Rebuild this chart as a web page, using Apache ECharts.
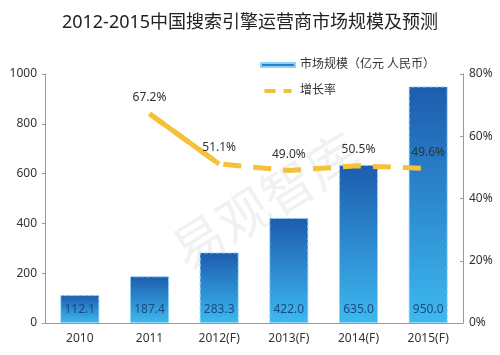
<!DOCTYPE html>
<html><head><meta charset="utf-8">
<script src="https://cdn.jsdelivr.net/npm/echarts@6/dist/echarts.min.js"></script>
<style>html,body{margin:0;padding:0;background:#fff}#c{width:500px;height:355px}</style>
</head><body><div id="c"></div>
<script>
var categories = ['2010', '2011', '2012(F)', '2013(F)', '2014(F)', '2015(F)'];
var marketSize = [112.1, 187.4, 283.3, 422.0, 635.0, 950.0];
var growthRate = [null, 67.2, 51.1, 49.0, 50.5, 49.6];
var leftTicks = [0, 1000, 200];
var rightTicks = [0, 80, 20];
var titleText = '2012-2015中国搜索引擎运营商市场规模及预测';
var sizeName = '市场规模（亿元 人民币）';
var rateName = '增长率';
var watermark = '易观智库';

var FONT = '"Noto Sans", "Noto Sans CJK SC", sans-serif';
var chart = echarts.init(document.getElementById('c'));
var solidPart = growthRate.map(function (v, i) { return i <= 2 ? v : null; });
chart.setOption({
  animation: false,
  textStyle: { fontFamily: FONT },
  title: { text: titleText, left: 'center', top: 9,
    textStyle: { fontSize: 18, fontWeight: 'normal', color: '#222', fontFamily: FONT } },
  graphic: [{ type: 'text', x: 268, y: 205, rotation: 0.55, z: 0,
    style: { text: watermark, fontSize: 52, fill: 'rgba(160,160,160,0.15)', textAlign: 'center', textVerticalAlign: 'middle', fontFamily: FONT } }],
  legend: { orient: 'vertical', left: 255, top: 54, itemGap: 14, itemWidth: 34, itemHeight: 4,
    data: [
      { name: sizeName, icon: 'rect', itemStyle: { color: '#2a7fcf' } },
      { name: rateName, icon: 'path://M0,0h14v5h-14z M24,0h10v5h-10z', itemStyle: { color: '#f3c13a' } }
    ],
    textStyle: { fontSize: 12, color: '#333', fontFamily: FONT } },
  grid: { left: 45, right: 37, top: 74, bottom: 32 },
  xAxis: { type: 'category', data: categories,
    axisLine: { lineStyle: { color: '#999' } }, axisTick: { show: false },
    axisLabel: { color: '#333', fontSize: 12, margin: 10 } },
  yAxis: [
    { type: 'value', min: leftTicks[0], max: leftTicks[1], interval: leftTicks[2],
      axisLine: { show: true, lineStyle: { color: '#999' } }, axisTick: { show: true, length: 3 },
      splitLine: { show: false }, axisLabel: { color: '#333', fontSize: 12, margin: 8,
        formatter: function (v) { return String(v); } } },
    { type: 'value', min: rightTicks[0], max: rightTicks[1], interval: rightTicks[2],
      axisLine: { show: true, lineStyle: { color: '#999' } }, axisTick: { show: true, inside: true, length: 3 },
      splitLine: { show: false }, axisLabel: { color: '#333', fontSize: 12, formatter: '{value}%', margin: 6 } }
  ],
  series: [
    { name: sizeName, type: 'bar', data: marketSize, barWidth: '56%', z: 2,
      itemStyle: { color: new echarts.graphic.LinearGradient(0, 0, 0, 1, [
          { offset: 0, color: '#1d5cae' }, { offset: 1, color: '#3db9f0' }]),
        borderColor: '#8fd3f5', borderWidth: 1, borderType: 'dashed' },
      label: { show: true, position: 'insideBottom', distance: 7, color: '#1c4a80', fontSize: 12,
        formatter: function (p) { return p.value.toFixed(1); } } },
    { name: rateName + '_s', type: 'line', yAxisIndex: 1, data: solidPart, symbol: 'none', z: 3,
      lineStyle: { color: '#f3c13a', width: 5 }, itemStyle: { color: '#f3c13a' } },
    { name: rateName, type: 'line', yAxisIndex: 1, data: growthRate, symbol: 'circle', symbolSize: 0.1,
      showSymbol: true, z: 4,
      lineStyle: { color: '#f3c13a', width: 5, type: [18, 12] }, itemStyle: { color: '#f3c13a' },
      label: { show: true, position: 'top', distance: 10, color: '#333', fontSize: 12,
        formatter: function (p) { return p.value == null ? '' : p.value.toFixed(1) + '%'; } } }
  ]
});
</script></body></html>
